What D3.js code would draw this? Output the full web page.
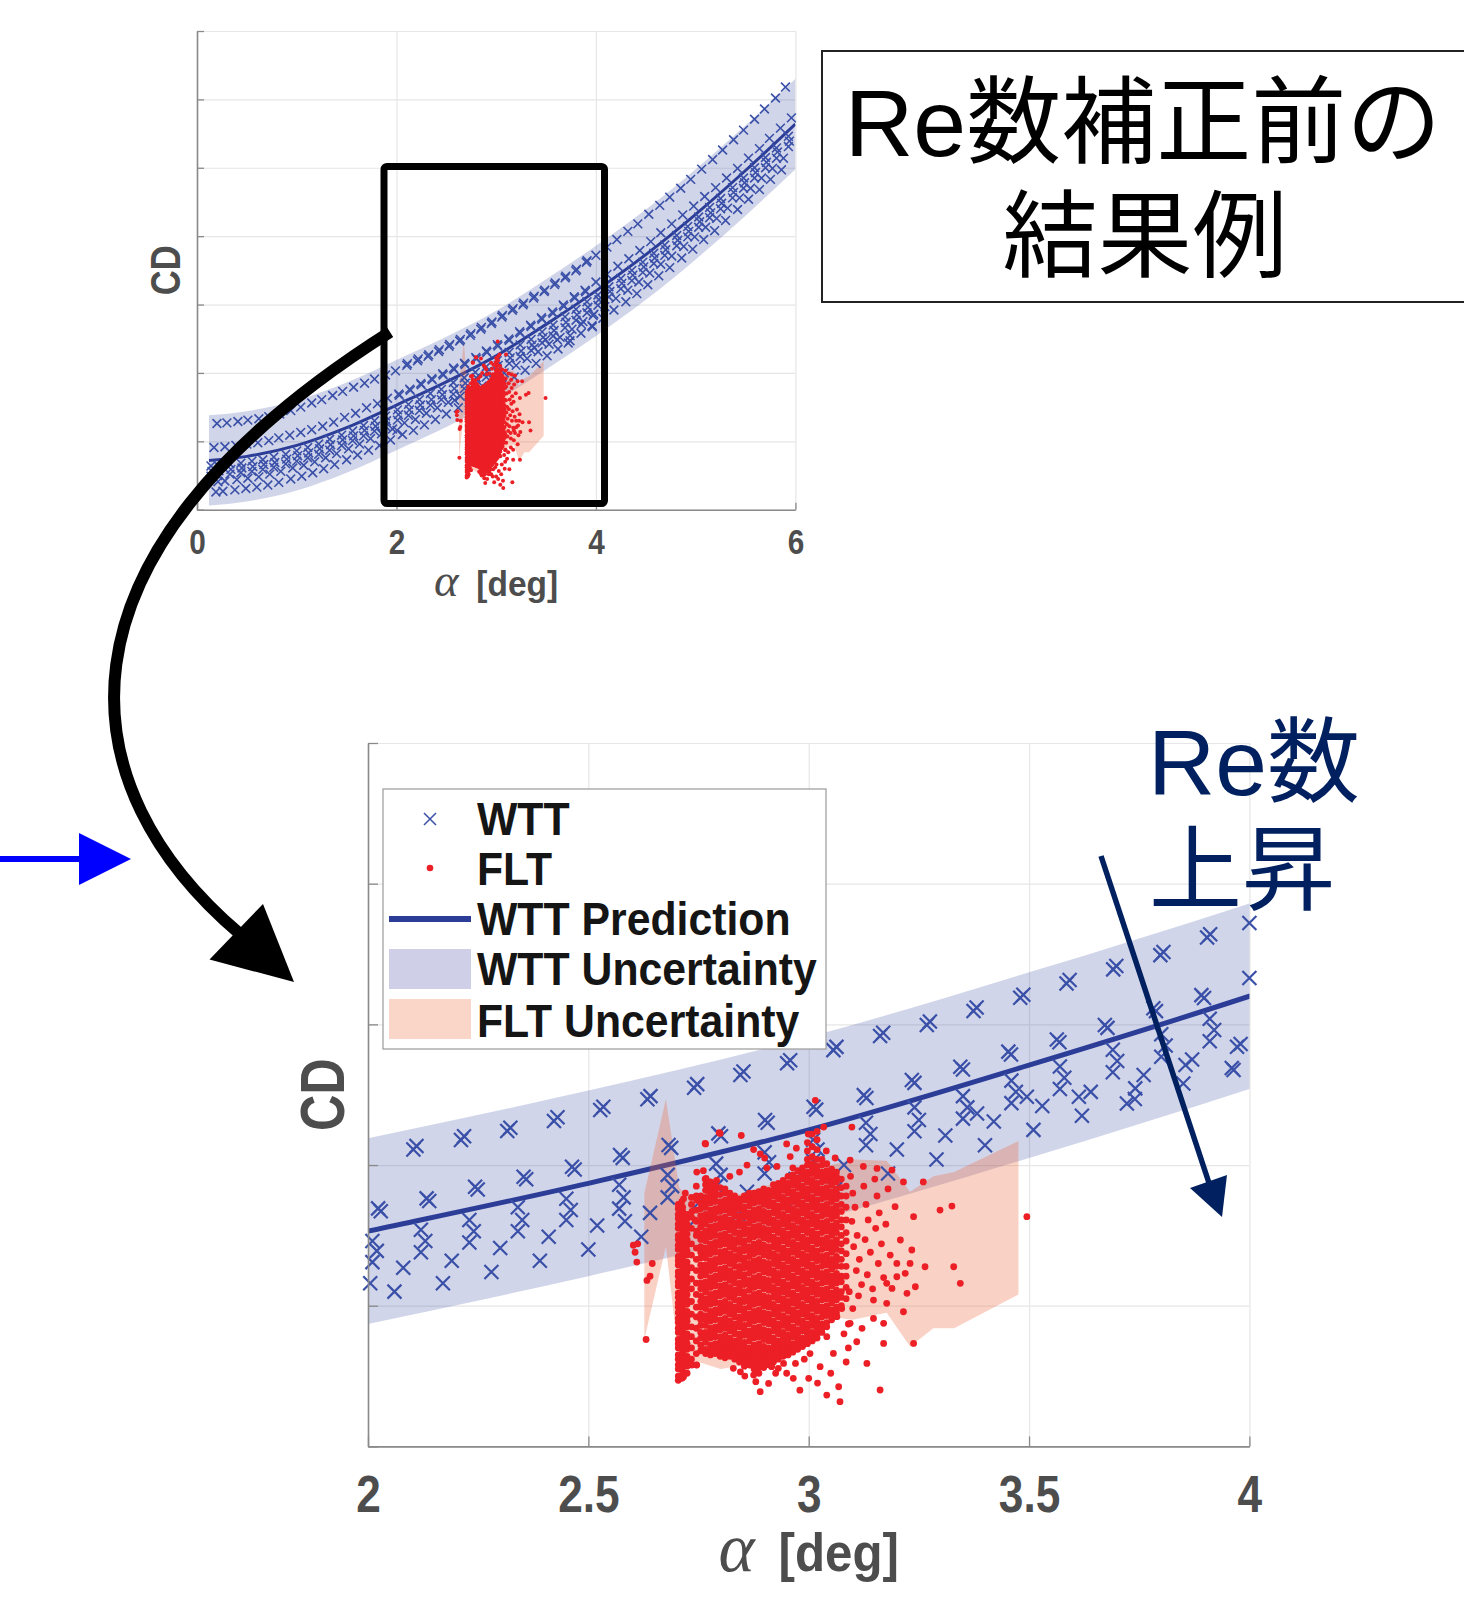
<!DOCTYPE html>
<html><head><meta charset="utf-8">
<script src="https://cdn.jsdelivr.net/npm/d3@7"></script>
<style>body{margin:0;background:#fff}svg{display:block}</style>
</head><body>
<svg id="c" width="1464" height="1618"></svg>
<script>
// ---------------- DATA ----------------
// axis ticks
const topXTicks = [0, 2, 4, 6];
const topXLabels = ["0", "2", "4", "6"];
const topYTicks = [0, 1, 2, 3, 4, 5, 6, 7];
const botXTicks = [2, 2.5, 3, 3.5, 4];
const botXLabels = ["2", "2.5", "3", "3.5", "4"];
const botYTicks = [0, 1, 2, 3, 4, 5];

// WTT prediction and uncertainty (CD in grid units)
const predAlpha = [0.12, 0.5, 1.0, 1.5, 2.0, 2.5, 3.0, 3.5, 4.0, 4.5, 5.0, 5.5, 6.0];
const predCD    = [0.72, 0.78, 0.94, 1.20, 1.53, 1.87, 2.25, 2.71, 3.20, 3.73, 4.32, 4.96, 5.64];
const predUpper = [1.38, 1.44, 1.60, 1.86, 2.19, 2.53, 2.91, 3.37, 3.86, 4.39, 4.98, 5.62, 6.30];
const predLower = [0.06, 0.12, 0.28, 0.54, 0.87, 1.21, 1.59, 2.05, 2.54, 3.07, 3.66, 4.30, 4.98];

// FLT uncertainty polygon
const fltBandAlpha = [2.627, 2.676, 2.706, 2.75, 2.80, 2.90, 3.00, 3.05, 3.10, 3.177, 3.23, 3.283, 3.33, 3.476];
const fltBandUpper = [1.80, 2.47, 1.84, 1.70, 1.75, 1.85, 1.95, 2.00, 2.04, 2.03, 1.81, 1.92, 1.95, 2.17];
const fltBandLower = [0.76, 1.42, 0.61, 0.60, 0.55, 0.60, 0.80, 0.92, 0.90, 0.95, 0.71, 0.84, 0.84, 1.08];

// WTT sweeps ("alpha,CD" pairs)
const wttSweepA = "0.20,1.26 0.30,1.27 0.41,1.29 0.51,1.31 0.62,1.33 0.72,1.36 0.83,1.40 0.94,1.45 1.04,1.50 1.15,1.56 1.25,1.61 1.36,1.67 1.46,1.73 1.57,1.79 1.68,1.85 1.78,1.91 1.89,1.97 1.99,2.03 2.103,2.111 2.211,2.178 2.316,2.242 2.422,2.313 2.527,2.391 2.634,2.467 2.740,2.550 2.845,2.640 2.951,2.723 3.056,2.817 3.162,2.917 3.268,2.995 3.374,3.095 3.480,3.189 3.585,3.291 3.691,3.391 3.798,3.492 3.904,3.618 4.00,3.72 4.11,3.84 4.21,3.95 4.32,4.07 4.42,4.18 4.53,4.32 4.64,4.45 4.74,4.57 4.85,4.70 4.95,4.83 5.06,4.98 5.17,5.12 5.27,5.26 5.38,5.41 5.48,5.55 5.59,5.71 5.69,5.86 5.80,6.02 5.90,6.18";
const wttSweepA2 = "2.110,2.135 2.218,2.205 2.323,2.265 2.430,2.340 2.534,2.415 2.641,2.490 2.747,2.575 2.852,2.665 2.958,2.745 3.063,2.840 3.169,2.940 3.275,3.020 3.381,3.120 3.487,3.210 3.592,3.315 3.698,3.415 3.805,3.515 3.911,3.640";
const wttSweepB = "0.17,0.91 0.28,0.92 0.39,0.94 0.50,0.96 0.61,0.98 0.72,1.01 0.82,1.05 0.93,1.09 1.04,1.13 1.15,1.17 1.26,1.22 1.37,1.28 1.48,1.35 1.59,1.41 1.70,1.49 1.81,1.55 1.91,1.63 2.023,1.692 2.133,1.763 2.243,1.846 2.353,1.917 2.463,1.988 2.572,2.071 2.682,2.142 2.795,2.225 2.901,2.320 3.011,2.414 3.125,2.497 3.234,2.604 3.344,2.699 3.453,2.806 3.563,2.893 3.672,2.995 3.782,3.114 3.891,3.208 4.00,3.33 4.11,3.44 4.22,3.56 4.33,3.67 4.44,3.79 4.55,3.92 4.65,4.05 4.76,4.18 4.87,4.31 4.98,4.44 5.09,4.58 5.20,4.71 5.31,4.85 5.42,4.99 5.53,5.14 5.64,5.28 5.74,5.43 5.85,5.58 5.96,5.73";
const wttSweepB2 = "2.029,1.672 2.139,1.745 2.249,1.826 2.359,1.899 2.469,1.968 2.578,2.051 2.688,2.122 2.801,2.205 2.907,2.300 3.017,2.394 3.131,2.477 3.240,2.584 3.350,2.679 3.459,2.786 3.569,2.873 3.678,2.975 3.788,3.094 3.897,3.188";
const wttSweepC = "0.14,0.64 0.21,0.65 0.33,0.67 0.44,0.68 0.55,0.71 0.66,0.73 0.77,0.77 0.89,0.81 1.00,0.86 1.11,0.91 1.22,0.96 1.33,1.03 1.45,1.09 1.56,1.15 1.67,1.23 1.78,1.30 1.89,1.37 2.01,1.46 2.12,1.54 2.23,1.61 2.34,1.70 2.45,1.76 2.57,1.86 2.68,1.93 2.79,2.01 2.90,2.09 3.01,2.18 3.13,2.30 3.24,2.41 3.35,2.49 3.46,2.60 3.57,2.70 3.69,2.82 3.80,2.93 3.91,3.04 4.02,3.14 4.13,3.26 4.25,3.38 4.36,3.50 4.47,3.62 4.58,3.75 4.69,3.87 4.81,4.01 4.92,4.14 5.03,4.28 5.14,4.42 5.25,4.55 5.37,4.71 5.48,4.85 5.59,5.00 5.70,5.15 5.81,5.29 5.93,5.46";
const wttSweepD = "0.15,0.56 0.22,0.57 0.34,0.59 0.45,0.61 0.56,0.63 0.67,0.66 0.78,0.69 0.90,0.74 1.01,0.79 1.12,0.83 1.23,0.89 1.34,0.95 1.46,1.02 1.57,1.08 1.68,1.16 1.79,1.22 1.90,1.30 2.02,1.39 2.13,1.46 2.24,1.53 2.35,1.61 2.46,1.68 2.58,1.77 2.69,1.85 2.80,1.93 2.91,2.02 3.02,2.11 3.14,2.22 3.25,2.32 3.36,2.41 3.47,2.52 3.58,2.62 3.70,2.74 3.81,2.85 3.92,2.96 4.03,3.07 4.14,3.19 4.26,3.31 4.37,3.43 4.48,3.55 4.59,3.68 4.70,3.80 4.82,3.94 4.93,4.07 5.04,4.21 5.15,4.34 5.26,4.48 5.38,4.64 5.49,4.78 5.60,4.93 5.71,5.08 5.82,5.23 5.94,5.39";
const wttSweepE = "0.14,0.49 0.21,0.50 0.33,0.52 0.44,0.54 0.55,0.56 0.66,0.59 0.77,0.62 0.89,0.67 1.00,0.71 1.11,0.76 1.22,0.81 1.33,0.87 1.45,0.94 1.56,1.01 1.67,1.08 1.78,1.15 1.89,1.22 2.01,1.31 2.12,1.38 2.23,1.45 2.34,1.53 2.45,1.61 2.57,1.69 2.68,1.77 2.79,1.85 2.90,1.94 3.01,2.03 3.13,2.14 3.24,2.24 3.35,2.33 3.46,2.44 3.57,2.54 3.69,2.66 3.80,2.77 3.91,2.88 4.02,2.99 4.13,3.11 4.25,3.23 4.36,3.35 4.47,3.47 4.58,3.60 4.69,3.72 4.81,3.86 4.92,3.99 5.03,4.13 5.14,4.27 5.25,4.40 5.37,4.56 5.48,4.70 5.59,4.85 5.70,5.00 5.81,5.14 5.93,5.31";
const wttSweepF = "0.21,0.41 0.28,0.42 0.40,0.44 0.51,0.46 0.62,0.48 0.73,0.52 0.84,0.56 0.96,0.61 1.07,0.65 1.18,0.70 1.29,0.76 1.40,0.82 1.52,0.89 1.63,0.96 1.74,1.04 1.85,1.11 1.96,1.18 2.08,1.27 2.19,1.32 2.30,1.41 2.41,1.49 2.52,1.57 2.64,1.66 2.75,1.73 2.86,1.81 2.97,1.90 3.08,2.00 3.20,2.11 3.31,2.21 3.42,2.31 3.53,2.42 3.64,2.52 3.76,2.64 3.87,2.75 3.98,2.86 4.09,2.97 4.20,3.09 4.32,3.21 4.43,3.33 4.54,3.46 4.65,3.59 4.76,3.71 4.88,3.85 4.99,3.99 5.10,4.13 5.21,4.26 5.32,4.41 5.44,4.56 5.55,4.70 5.66,4.85 5.77,4.99 5.88,5.14";
const wttSweepG = "0.19,0.26 0.26,0.27 0.38,0.29 0.49,0.31 0.60,0.33 0.71,0.36 0.82,0.40 0.94,0.45 1.05,0.49 1.16,0.54 1.27,0.60 1.38,0.66 1.50,0.73 1.61,0.80 1.72,0.87 1.83,0.94 1.94,1.02 2.06,1.10 2.17,1.16 2.28,1.24 2.39,1.32 2.50,1.40 2.62,1.49 2.73,1.57 2.84,1.65 2.95,1.74 3.06,1.83 3.18,1.94 3.29,2.04 3.40,2.14 3.51,2.25 3.62,2.35 3.74,2.47 3.85,2.58 3.96,2.69 4.07,2.80 4.18,2.92 4.30,3.04 4.41,3.16 4.52,3.29 4.63,3.42 4.74,3.54 4.86,3.68 4.97,3.81 5.08,3.95 5.19,4.08 5.30,4.23 5.42,4.39 5.53,4.54 5.64,4.68 5.75,4.83 5.86,4.97";
const wttExtra = "2.005,1.16 2.583,1.60 3.382,2.367 3.495,2.486 3.613,2.486 3.741,2.545 3.722,2.438 3.855,2.711 3.964,2.675 3.972,2.841";

// FLT points: columns of alpha with CD values (hundredths)
const fltColumns = [
 [2.704, "47 50 55 58 62 65 70 73 76 81 84 88 91 95 99 102 106 109 114 117 121 124 129 132 135 140 143 147 150 155 158 162 165 169 172"],
 [2.714, "49 53 56 60 64 67 71 75 78 82 86 89 93 97 100 104 108 111 115 119 122 126 130 133 137 141 144 148 152 156 159 163 167 170"],
 [2.724, "52 57 61 64 69 73 77 80 85 89 92 96 101 104 108 112 116 120 124 128 131 136 139 143 147 151 155 158 162 165"],
 [2.734, "62 70 78 85 94 103 112 119 127 136 144 155 163 172 177"],
 [2.745, "58 66 75 84 92 99 108 116 125 133 141 150 160 168 178 185"],
 [2.755, "68 72 77 81 86 90 94 99 103 107 112 116 121 125 129 134 138 142 147 151 156 160 164 169 173 178"],
 [2.766, "66 69 74 78 81 86 90 93 98 102 105 110 114 117 122 126 129 134 137 141 146 150 153 158 162 165 170 174 177 182 186"],
 [2.777, "65 68 72 77 80 84 89 92 96 101 104 108 113 116 120 125 128 132 137 140 144 149 152 156 161 164 168 173 176 180 184 188"],
 [2.788, "66 70 73 78 82 85 90 94 97 102 106 109 114 118 121 126 130 133 138 142 145 150 154 157 162 166 169 174 178 181 185"],
 [2.799, "64 67 71 74 78 83 86 90 95 98 102 107 110 114 119 122 126 131 134 138 143 146 150 155 158 162 167 170 174 179 184"],
 [2.810, "63 66 69 72 76 79 84 88 91 96 100 103 108 112 115 120 124 127 132 136 139 144 148 151 156 160 163 168 172 175 180 183"],
 [2.821, "64 67 70 74 77 82 86 89 94 98 101 106 110 113 118 122 125 130 134 137 142 146 149 154 158 161 166 170 173 177 180"],
 [2.832, "62 65 68 72 75 80 84 87 92 96 99 104 108 111 116 120 123 128 132 135 140 144 147 152 156 159 164 168 171 175 178"],
 [2.843, "60 63 66 69 73 77 80 85 89 92 97 101 104 109 113 116 121 125 128 133 137 140 145 149 152 157 161 164 169 173 176"],
 [2.854, "57 61 64 67 71 74 79 83 86 91 95 98 103 107 110 115 119 122 127 131 134 139 143 146 151 155 158 163 167 170 175 178"],
 [2.865, "58 61 64 67 70 75 79 82 87 91 94 99 103 106 111 115 118 123 127 130 135 139 142 147 151 154 159 163 166 171 175 178 180"],
 [2.876, "55 59 62 65 69 72 77 81 84 89 93 96 101 105 108 113 117 120 125 129 132 137 141 144 149 153 156 161 165 168 173 177 180"],
 [2.887, "52 56 60 63 66 70 73 78 82 85 90 94 97 102 106 109 114 118 121 126 130 133 138 142 145 150 154 157 162 166 169 174 178 181"],
 [2.898, "56 59 62 65 68 71 76 80 83 88 92 95 100 104 107 112 116 119 124 128 131 136 140 143 148 152 155 160 164 167 172 176 179 183"],
 [2.909, "58 61 64 67 70 75 79 82 87 91 94 99 103 106 111 115 118 123 127 130 135 139 142 147 151 154 159 163 166 171 175 178 182"],
 [2.920, "60 63 66 70 74 77 82 86 89 94 98 101 106 110 113 118 122 125 130 134 137 142 146 149 154 158 161 166 170 173 178 182 186"],
 [2.931, "62 65 68 72 75 80 84 87 92 96 99 104 108 111 116 120 123 128 132 135 140 144 147 152 156 159 164 168 171 176 180 183 187"],
 [2.942, "64 67 70 74 78 81 86 90 93 98 102 105 110 114 117 122 126 129 134 138 141 146 150 153 158 162 165 170 174 177 182 186 189"],
 [2.953, "65 68 72 76 79 84 88 91 96 100 103 108 112 115 120 124 127 132 136 139 144 148 151 156 160 163 168 172 175 180 184 187 192"],
 [2.964, "67 70 73 78 82 85 90 94 97 102 106 109 114 118 121 126 130 133 138 142 145 150 154 157 162 166 169 174 178 181 186 190 193 198"],
 [2.975, "69 72 76 80 83 88 92 95 100 104 107 112 116 119 124 128 131 136 140 143 148 152 155 160 164 167 172 176 179 184 188 191 196"],
 [2.986, "71 74 77 82 86 89 94 98 101 106 110 113 118 122 125 130 134 137 142 146 149 154 158 161 166 170 173 178 182 185 190 194 198"],
 [2.997, "73 76 80 84 87 92 96 99 104 108 111 116 120 123 128 132 135 140 144 147 152 156 159 164 168 171 176 180 183 188 192 195 200 204 210 216"],
 [3.008, "75 78 81 86 90 93 98 102 105 110 114 117 122 126 129 134 138 141 146 150 153 158 162 165 170 174 177 182 186 189 194 198 201 206 213 222"],
 [3.019, "77 80 84 88 91 96 100 103 108 112 115 120 124 127 132 136 139 144 148 151 156 160 163 168 172 175 180 184 187 192 196 199 204 211 218 224"],
 [3.030, "81 84 87 92 96 99 104 108 111 116 120 123 128 132 135 140 144 147 152 156 159 164 168 171 176 180 183 188 192 195 200 204"],
 [3.041, "85 88 93 97 100 105 109 112 117 121 124 129 133 136 141 145 148 153 157 160 165 169 172 177 181 184 189 193 196 201"],
 [3.052, "90 94 97 102 106 109 114 118 121 126 130 133 138 142 145 150 154 157 162 166 169 174 178 181 186 190 193 197"],
 [3.063, "95 99 104 108 111 116 120 123 128 132 135 140 144 147 152 156 159 164 168 171 176 180 183 188 192 195"],
 [3.074, "100 106 110 117 121 128 133 139 144 150 156 161 167 172 178 184 190"],
 [3.085, "105 113 121 128 137 146 152 161 170 178 185"]
];
const fltOutliers = "2.602,1.43 2.606,1.38 2.610,1.31 2.612,1.44 2.631,0.76 2.633,1.18 2.640,1.21 2.645,1.30 2.716,1.76 2.720,1.80 2.712,1.74 2.735,1.67 2.742,1.61 2.746,1.53 2.746,1.75 2.765,1.76 2.769,1.82 2.746,1.95 2.791,1.89 2.765,1.90 2.761,1.96 2.766,2.15 2.767,1.905 2.797,2.23 2.847,2.21 2.799,2.225 2.765,2.154 2.860,2.00 2.890,2.08 2.875,2.11 2.900,2.05 2.928,1.99 2.950,2.15 2.999,2.22 3.015,2.46 3.034,2.27 3.098,2.27 3.094,2.035 3.124,1.99 3.155,1.976 3.189,1.964 3.215,1.88 3.260,1.88 3.196,1.704 3.238,1.633 3.298,1.68 3.325,1.708 3.495,1.633 3.208,1.467 3.234,1.396 3.200,1.301 3.230,1.301 3.264,1.277 3.329,1.277 3.344,1.159 3.219,1.23 3.200,1.206 3.177,1.159 3.189,1.123 3.242,1.135 3.223,1.088 3.215,0.957 3.177,1.017 3.147,1.04 3.170,0.875 3.147,0.91 3.121,0.839 3.109,0.744 3.132,0.59 3.238,0.732 3.170,0.732 3.095,1.92 3.100,1.80 3.105,1.70 3.098,1.60 3.110,1.50 3.102,1.42 3.115,1.33 3.108,1.25 3.120,1.15 3.113,1.07 3.125,1.85 3.130,1.72 3.135,1.61 3.128,1.47 3.140,1.38 3.133,1.22 3.145,1.12 3.150,1.90 3.155,1.78 3.160,1.66 3.152,1.55 3.165,1.44 3.158,1.30 3.170,1.20 3.175,1.58 3.180,1.83 3.185,1.36 3.092,1.10 3.100,0.98 3.090,0.87 3.162,0.401 3.071,0.318 3.041,0.365 3.068,0.424 3.026,0.567 3.056,0.661 3.041,0.78 3.064,0.922 3.094,0.875 3.000,0.484 2.965,0.484 2.931,0.555 2.916,0.567 2.909,0.448 2.890,0.389 2.875,0.507 2.867,0.578 2.829,0.555 2.943,0.59 2.970,0.59 3.003,0.66 2.746,0.578 2.735,0.578 2.716,0.495 2.712,0.484 2.980,0.40 2.950,0.52 3.020,0.45 3.085,0.60 3.050,0.52 3.075,0.98 3.080,0.80 3.090,0.70 2.821,1.92 2.843,1.95 2.905,1.98 2.958,2.06 2.972,2.12 3.040,2.10 3.060,2.05 2.855,0.50 2.880,0.46 2.845,0.53 2.925,0.52 2.990,0.62";

// ---------------- BUILD ----------------
const parsePairs = s => s.trim().split(/\s+/).map(p => p.split(",").map(Number));
const wttPts = [wttSweepA, wttSweepA2, wttSweepB, wttSweepB2, wttSweepC, wttSweepD, wttSweepE, wttSweepF, wttSweepG, wttExtra].flatMap(parsePairs);
const fltPts = fltColumns.flatMap(([a, s]) => s.trim().split(/\s+/).map(v => [a, +v / 100])).concat(parsePairs(fltOutliers));
const pred = predAlpha.map((a, i) => ({a, c: predCD[i], u: predUpper[i], l: predLower[i]}));
const fltBand = fltBandAlpha.map((a, i) => ({a, u: fltBandUpper[i], l: fltBandLower[i]}));

const C = {
  marker: "#3a50a8", line: "#2c3d98", band: "#2c3e9a", red: "#ec1f26", pink: "#ee6a40",
  grid: "#e6e6e6", axis: "#8a8a8a", text: "#4d4d4d"
};
const SANS = "'Liberation Sans',Arial,'Noto Sans CJK JP',sans-serif";

const svg = d3.select("#c");
svg.append("rect").attr("width", 1464).attr("height", 1618).attr("fill", "#fff");
const defs = svg.append("defs");

function panel(o) {
  const {x, y} = o;
  const [x0, x1] = x.range(), [y0, y1] = y.range();
  const g = svg.append("g");
  // grid
  g.append("g").attr("transform", `translate(0,${y0})`)
    .call(d3.axisBottom(x).tickValues(o.xTicks).tickSize(-(y0 - y1)).tickFormat(""))
    .call(s => { s.select(".domain").remove(); s.selectAll("line").attr("stroke", C.grid).attr("stroke-width", 1.2); });
  g.append("g").attr("transform", `translate(${x0},0)`)
    .call(d3.axisLeft(y).tickValues(o.yTicks).tickSize(-(x1 - x0)).tickFormat(""))
    .call(s => { s.select(".domain").remove(); s.selectAll("line").attr("stroke", C.grid).attr("stroke-width", 1.2); });

  defs.append("clipPath").attr("id", o.id).append("rect")
    .attr("x", x0).attr("y", y1).attr("width", x1 - x0).attr("height", y0 - y1);
  const pg = g.append("g").attr("clip-path", `url(#${o.id})`);

  // WTT uncertainty band
  pg.append("path").datum(pred)
    .attr("d", d3.area().x(d => x(d.a)).y0(d => y(d.l)).y1(d => y(d.u)).curve(d3.curveMonotoneX))
    .attr("fill", C.band).attr("fill-opacity", 0.22);

  // WTT markers
  const dom = x.domain(), ydom = y.domain();
  const inD = d => d[0] >= dom[0] && d[0] <= dom[1] && d[1] >= ydom[0] && d[1] <= ydom[1];
  const s = o.mk;
  g.append("g").selectAll("path").data(wttPts.filter(inD)).join("path")
    .attr("d", d => `M${x(d[0]) - s},${y(d[1]) - s}L${x(d[0]) + s},${y(d[1]) + s}M${x(d[0]) - s},${y(d[1]) + s}L${x(d[0]) + s},${y(d[1]) - s}`)
    .attr("stroke", C.marker).attr("stroke-width", o.mkw).attr("fill", "none");

  // FLT points
  g.append("g").selectAll("circle").data(fltPts.filter(inD)).join("circle")
    .attr("cx", d => x(d[0])).attr("cy", d => y(d[1])).attr("r", o.dotR).attr("fill", C.red);

  // prediction line
  pg.append("path").datum(pred)
    .attr("d", d3.line().x(d => x(d.a)).y(d => y(d.c)).curve(d3.curveMonotoneX))
    .attr("fill", "none").attr("stroke", C.line).attr("stroke-width", o.lw);

  // FLT uncertainty
  pg.append("path").datum(fltBand)
    .attr("d", d3.area().x(d => x(d.a)).y0(d => y(d.l)).y1(d => y(d.u)))
    .attr("fill", C.pink).attr("fill-opacity", 0.3);

  // axes
  const gx = g.append("g").attr("transform", `translate(0,${y0})`)
    .call(d3.axisBottom(x).tickValues(o.xTicks).tickFormat((d, i) => o.xLabels[i])
      .tickSizeInner(-o.tl).tickSizeOuter(0).tickPadding(o.pad));
  gx.select(".domain").attr("stroke", C.axis).attr("stroke-width", 1.6);
  gx.selectAll(".tick line").attr("stroke", C.axis).attr("stroke-width", 1.3);
  gx.selectAll(".tick text").attr("font-family", SANS).attr("font-weight", "bold")
    .attr("font-size", o.fs).attr("fill", C.text).attr("transform", `scale(${o.fsx},1)`);
  const gy = g.append("g").attr("transform", `translate(${x0},0)`)
    .call(d3.axisLeft(y).tickValues(o.yTicks).tickFormat("").tickSizeInner(-o.tl).tickSizeOuter(0));
  gy.select(".domain").attr("stroke", C.axis).attr("stroke-width", 1.6);
  gy.selectAll(".tick line").attr("stroke", C.axis).attr("stroke-width", 1.3);

  // labels
  const xc = (x0 + x1) / 2;
  g.append("text").attr("x", xc + o.alphaDx).attr("y", o.xlY).attr("text-anchor", "middle").attr("fill", C.text)
    .attr("font-family", "'Liberation Serif','DejaVu Serif',serif").attr("font-style", "italic")
    .attr("font-size", o.xlFs * 1.3).text("α");
  g.append("text").attr("transform", `translate(${xc + o.degDx},${o.xlY}) scale(0.93,1)`).attr("text-anchor", "middle")
    .attr("fill", C.text).attr("font-family", SANS).attr("font-weight", "bold").attr("font-size", o.xlFs).text("[deg]");
  g.append("text").attr("transform", `translate(${o.ylX},${(y0 + y1) / 2}) rotate(-90) scale(0.8,1)`)
    .attr("text-anchor", "middle").attr("font-family", SANS).attr("font-weight", "bold")
    .attr("font-size", o.ylFs).attr("fill", C.text).text("CD");
  return g;
}

// top (overview) chart
const xTop = d3.scaleLinear([0, 6], [197, 795.4]);
const yTop = d3.scaleLinear([0, 7], [509.7, 31]);
panel({id: "clipTop", x: xTop, y: yTop, xTicks: topXTicks, xLabels: topXLabels, yTicks: topYTicks,
  mk: 4.4, mkw: 1.6, dotR: 2.0, lw: 3, tl: 7, pad: 19, fs: 35, fsx: 0.85, xlY: 596, xlFs: 36,
  alphaDx: -50, degDx: 21, ylX: 180, ylFs: 43});

// bottom (zoomed) chart
const xBot = d3.scaleLinear([2, 4], [368, 1249.4]);
const yBot = d3.scaleLinear([0, 5], [1446.4, 743]);
panel({id: "clipBot", x: xBot, y: yBot, xTicks: botXTicks, xLabels: botXLabels, yTicks: botYTicks,
  mk: 7, mkw: 2.2, dotR: 3.4, lw: 5, tl: 10, pad: 29, fs: 52, fsx: 0.85, xlY: 1571, xlFs: 53,
  alphaDx: -72, degDx: 30, ylX: 344, ylFs: 63});

// legend
const lg = svg.append("g");
lg.append("rect").attr("x", 383).attr("y", 789).attr("width", 443).attr("height", 260)
  .attr("fill", "#fff").attr("stroke", "#999").attr("stroke-width", 1.2);
lg.append("path").attr("d", "M424,813L436,825M424,825L436,813").attr("stroke", C.marker).attr("stroke-width", 1.5);
lg.append("circle").attr("cx", 430).attr("cy", 868).attr("r", 3.3).attr("fill", C.red);
lg.append("line").attr("x1", 389).attr("x2", 471).attr("y1", 919).attr("y2", 919).attr("stroke", C.line).attr("stroke-width", 6);
lg.append("rect").attr("x", 389).attr("y", 949).attr("width", 82).attr("height", 40).attr("fill", "#cfd0e8");
lg.append("rect").attr("x", 389).attr("y", 999).attr("width", 82).attr("height", 40).attr("fill", "#fad6c8");
const legendLabels = ["WTT", "FLT", "WTT Prediction", "WTT Uncertainty", "FLT Uncertainty"];
const legendBase = [835, 885, 935, 985, 1037];
lg.selectAll("text").data(legendLabels).join("text")
  .attr("transform", (d, i) => `translate(477,${legendBase[i]}) scale(0.93,1)`)
  .attr("font-family", SANS).attr("font-weight", "bold")
  .attr("font-size", 46).attr("fill", "#151515").text(d => d);

// ---------------- annotations ----------------
// zoom rectangle on top chart
svg.append("rect").attr("x", xTop(1.875)).attr("y", yTop(5.02)).attr("width", xTop(4.086) - xTop(1.875))
  .attr("height", yTop(0.09) - yTop(5.02)).attr("rx", 3).attr("fill", "none").attr("stroke", "#000").attr("stroke-width", 7);

// curved black arrow
svg.append("path").attr("d", "M390,332 C30,560 70,790 240,934").attr("fill", "none")
  .attr("stroke", "#000").attr("stroke-width", 12);
svg.append("path").attr("d", "M209.5,959.5 L263,904 L294,982 Z").attr("fill", "#000");

// blue arrow
svg.append("line").attr("x1", 0).attr("x2", 84).attr("y1", 859).attr("y2", 859).attr("stroke", "#0000ff").attr("stroke-width", 6);
svg.append("path").attr("d", "M79,833 L131,859 L79,885 Z").attr("fill", "#0000ff");

// title box
svg.append("rect").attr("x", 822).attr("y", 51).attr("width", 660).attr("height", 251)
  .attr("fill", "#fff").attr("stroke", "#222").attr("stroke-width", 2);
svg.append("text").attr("x", 1143).attr("y", 156).attr("text-anchor", "middle").attr("font-family", SANS)
  .attr("font-size", 95).attr("fill", "#000").text("Re数補正前の");
svg.append("text").attr("x", 1145).attr("y", 270).attr("text-anchor", "middle").attr("font-family", SANS)
  .attr("font-size", 95).attr("fill", "#000").text("結果例");

// Re increase annotation
const navy = "#002060";
svg.append("text").attr("x", 1148).attr("y", 795).attr("font-family", SANS).attr("font-size", 93).attr("fill", navy).text("Re数");
svg.append("text").attr("x", 1149).attr("y", 903).attr("font-family", SANS).attr("font-size", 93).attr("fill", navy).text("上昇");
svg.append("line").attr("x1", 1101).attr("y1", 856).attr("x2", 1209).attr("y2", 1183).attr("stroke", navy).attr("stroke-width", 5.5);
svg.append("path").attr("d", "M1190,1188 L1227,1175 L1222,1217 Z").attr("fill", navy);
</script>
</body></html>
